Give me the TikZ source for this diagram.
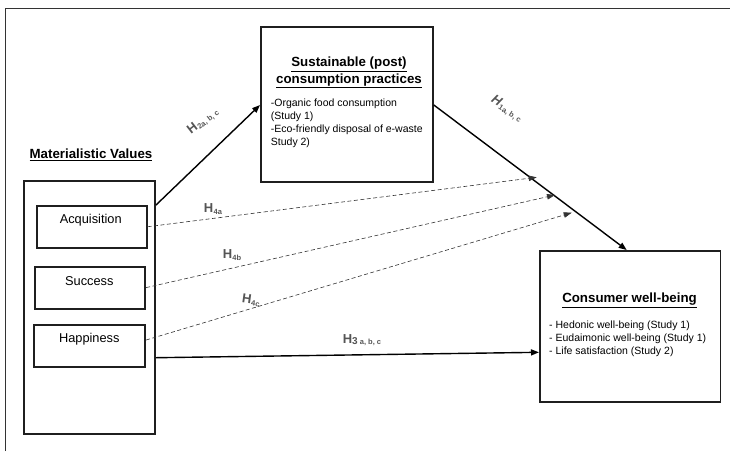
\documentclass[tikz,border=0pt]{standalone}
\usepackage{fontspec}
\setmainfont{Liberation Sans}
\usetikzlibrary{arrows.meta,calc}
\definecolor{lab}{HTML}{555555}
\newcommand{\hyp}[2]{{\fontsize{13}{13}\selectfont #1H}\kern0.3pt\raisebox{-1.8pt}{\fontsize{7.5}{7.5}\selectfont #2}}
\begin{document}
\begin{tikzpicture}[x=1pt,y=-1pt,
  box/.style={draw=black!88, line width=1.8pt, inner sep=0pt},
  arr/.style={line width=1.4pt, -{Triangle[length=8pt,width=6pt]}},
  darr/.style={line width=0.6pt, draw=black!80, dash pattern=on 4pt off 2.5pt, -{Triangle[length=8pt,width=5.5pt]}},
  title/.style={font=\fontsize{13.3}{16.5}\selectfont\bfseries, align=center, inner sep=0pt},
  body/.style={font=\fontsize{10.5}{13.2}\selectfont, align=left, inner sep=0pt},
  item/.style={font=\fontsize{12.8}{14}\selectfont, inner sep=0pt},
  hlab/.style={text=lab, font=\bfseries, inner sep=0pt}
]
\useasboundingbox (0,0) rectangle (730,451);
% outer frame
\draw[line width=1pt, draw=black!80] (5,451) -- (5,8) -- (730,8);

% sustainable practices
\node[box, anchor=north west, minimum width=172pt, minimum height=155pt] (sus) at (260,26) {};
\node[title] (sust) at (349,72.5) {\underline{Sustainable (post)}\\\underline{consumption practices}};
\node[body, anchor=north west] (susb) at (270.7,98.5) {-Organic food consumption\\(Study 1)\\-Eco-friendly disposal of e-waste\\Study 2)};

% materialistic values
\node[title] (matl) at (91,154.5) {\underline{Materialistic Values}};
\node[box, anchor=north west, minimum width=131.5pt, minimum height=253pt] (mat) at (22.7,180) {};
\node[box, anchor=north west, minimum width=110pt, minimum height=41.7pt] (acq) at (35.7,205) {};
\node[box, anchor=north west, minimum width=110pt, minimum height=42pt] (suc) at (34.3,265.7) {};
\node[box, anchor=north west, minimum width=111pt, minimum height=42pt] (hap) at (33.3,324) {};
\node[item] (acqt) at (90.7,220.5) {Acquisition};
\node[item] (suct) at (89.3,281.5) {Success};
\node[item] (hapt) at (89.3,339.5) {Happiness};

% consumer well-being
\node[box, anchor=north west, minimum width=180.5pt, minimum height=151pt] (con) at (539,250) {};
\node[title] (cont) at (629.5,300.5) {\underline{Consumer well-being}};
\node[body, anchor=north west] (conb) at (549,320.5) {- Hedonic well-being (Study 1)\\- Eudaimonic well-being (Study 1)\\- Life satisfaction (Study 2)};

% end points of the dashed paths on H1
\coordinate (e4a) at (536.7,177.3);
\coordinate (e4b) at (555,195);
\coordinate (e4c) at (571.7,212.7);

% connectors
\draw[arr] (mat.east |- 0,205) -- (sus.west |- 0,105);
\draw[arr] (sus.east |- 0,105) -- (con.north -| 626.7,0);
\draw[darr] (acq.east) -- (e4a);
\draw[darr] (suc.east) -- (e4b);
\draw[darr] (hap.east |- 0,340) -- (e4c);
\draw[arr] (mat.east |- 0,357.7) -- (con.west |- 0,352.3);

% hypothesis labels
\node[hlab, rotate=38] (l2) at (203,121) {\hyp{}{2a, b, c}};
\node[hlab, rotate=-33] (l1) at (507,109) {\hyp{\itshape}{1a, b, c}};
\node[hlab] (l4a) at (213,209) {\hyp{}{4a}};
\node[hlab] (l4b) at (232,255) {\hyp{}{4b}};
\node[hlab, rotate=-8] (l4c) at (251,300.5) {\hyp{}{4c}};
\node[hlab] (l3) at (362,340) {{\fontsize{13}{13}\selectfont H}\raisebox{-1.2pt}{\fontsize{10}{10}\selectfont 3}\raisebox{-1.8pt}{\fontsize{7.5}{7.5}\selectfont\ a, b, c}};
\end{tikzpicture}
\end{document}
